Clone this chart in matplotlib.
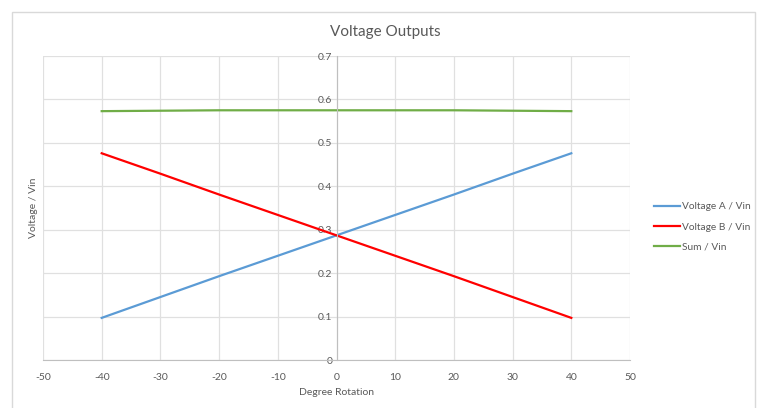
import matplotlib
matplotlib.use("Agg")
import matplotlib.pyplot as plt
from matplotlib.patches import Rectangle

plt.rcParams['font.family'] = ['Lato', 'DejaVu Sans']

degrees = [-40, -30, -20, -10, 0, 10, 20, 30, 40]
voltage_a = [0.097, 0.145, 0.193, 0.240, 0.287, 0.334, 0.381, 0.429, 0.476]
voltage_b = [0.476, 0.429, 0.381, 0.334, 0.287, 0.240, 0.193, 0.145, 0.097]
sum_v = [0.573, 0.574, 0.575, 0.575, 0.575, 0.575, 0.575, 0.574, 0.573]

x_ticks = [-50, -40, -30, -20, -10, 0, 10, 20, 30, 40, 50]
y_ticks = [0, 0.1, 0.2, 0.3, 0.4, 0.5, 0.6, 0.7]

W, H = 757, 408
fig = plt.figure(figsize=(W / 100, H / 100), dpi=100)
fig.patch.set_facecolor('white')

# outer chart border
fig.add_artist(Rectangle((12 / W, -0.1), (755 - 12) / W, 1.1 - 12 / H,
                         transform=fig.transFigure, fill=False,
                         edgecolor='#d9d9d9', linewidth=1.0))

ax = fig.add_axes([43 / W, 1 - 360 / H, (630 - 43) / W, (360 - 56) / H])
txt = '#595959'

ax.plot(degrees, voltage_a, color='#5b9bd5', lw=1.6, label='Voltage A / Vin')
ax.plot(degrees, voltage_b, color='#ff0000', lw=1.6, label='Voltage B / Vin')
ax.plot(degrees, sum_v, color='#70ad47', lw=1.6, label='Sum / Vin')

ax.set_xlim(-50, 50)
ax.set_ylim(0, 0.7)
ax.set_xticks(x_ticks)
ax.set_yticks(y_ticks)
ax.set_xticklabels([str(v) for v in x_ticks])
ax.set_yticklabels(['0'] + [f'{v:.1f}' for v in y_ticks[1:]])
ax.grid(True, color='#e0e0e0', lw=0.9)
ax.set_axisbelow(True)

for s in ['top', 'right']:
    ax.spines[s].set_visible(False)
ax.spines['left'].set_position(('data', 0))
ax.spines['left'].set_color('#bfbfbf')
ax.spines['bottom'].set_color('#bfbfbf')
ax.tick_params(axis='both', length=0, labelsize=7.5, colors=txt)
ax.tick_params(axis='x', pad=9)
ax.tick_params(axis='y', pad=3)

ax.set_xlabel('Degree Rotation', fontsize=7.5, color=txt, labelpad=5)
fig.text(33 / W, 1 - 208 / H, 'Voltage / Vin', rotation=90, fontsize=7.5,
         color=txt, ha='center', va='center')
fig.text(385 / W, 1 - 32 / H, 'Voltage Outputs', fontsize=11, color=txt,
         ha='center', va='center')

leg = fig.legend(loc='center left', bbox_to_anchor=(645 / W, 1 - 227 / H),
                 frameon=False, fontsize=7.3, handlelength=2.6, handletextpad=0.1,
                 labelspacing=1.1)
for t in leg.get_texts():
    t.set_color(txt)

fig.savefig('out.png', dpi=100, facecolor='white')
